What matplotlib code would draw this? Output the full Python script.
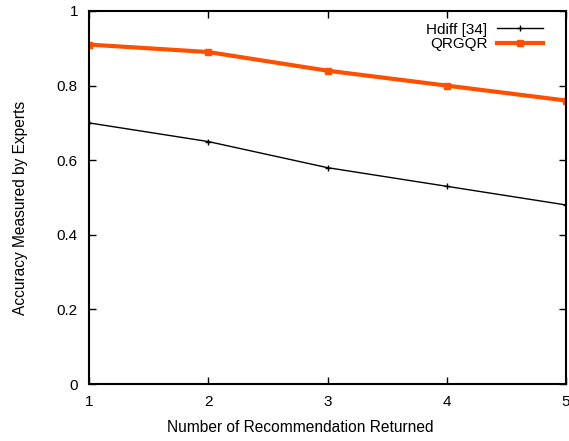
import numpy as np
import matplotlib.pyplot as plt

plt.rcParams['font.family'] = ['Liberation Sans', 'DejaVu Sans']

# data
n_returned = [1, 2, 3, 4, 5]
hdiff = [0.70, 0.65, 0.58, 0.53, 0.48]
qrgqr = [0.91, 0.89, 0.84, 0.80, 0.76]

fig = plt.figure(figsize=(5.69, 4.41), dpi=100)
ax = fig.add_axes([89/569, 57/441, 477/569, 373/441])

ax.plot(n_returned, hdiff, color='black', lw=1, marker='+', ms=5, mew=1,
        label='Hdiff [34]')
ax.plot(n_returned, qrgqr, color='#ff5000', lw=3, marker='s', ms=4,
        label='QRGQR')

ax.set_xlim(1, 5)
ax.set_ylim(0, 1)
ax.set_xticks([1, 2, 3, 4, 5])
ax.set_yticks([0, 0.2, 0.4, 0.6, 0.8, 1])
ax.set_yticklabels(['0', '0.2', '0.4', '0.6', '0.8', '1'])
ax.tick_params(direction='in', top=True, right=True, length=5, width=1,
               labelsize=11, pad=8)
for s in ax.spines.values():
    s.set_linewidth(1.5)

ax.set_xlabel('Number of Recommendation Returned', fontsize=11.2)
ax.xaxis.set_label_coords((300 - 89) / 477, -36 / 373)
ax.set_ylabel('Accuracy Measured by Experts', fontsize=11.2)
ax.yaxis.set_label_coords(-61 / 477, (384 - 208) / 373)

ax.legend(loc='upper right', frameon=False, markerfirst=False, fontsize=11,
          handlelength=3.0, borderaxespad=0.0, labelspacing=0.05,
          handletextpad=0.65, bbox_to_anchor=(0.965, 0.985))

fig.savefig('out.png', dpi=100)
